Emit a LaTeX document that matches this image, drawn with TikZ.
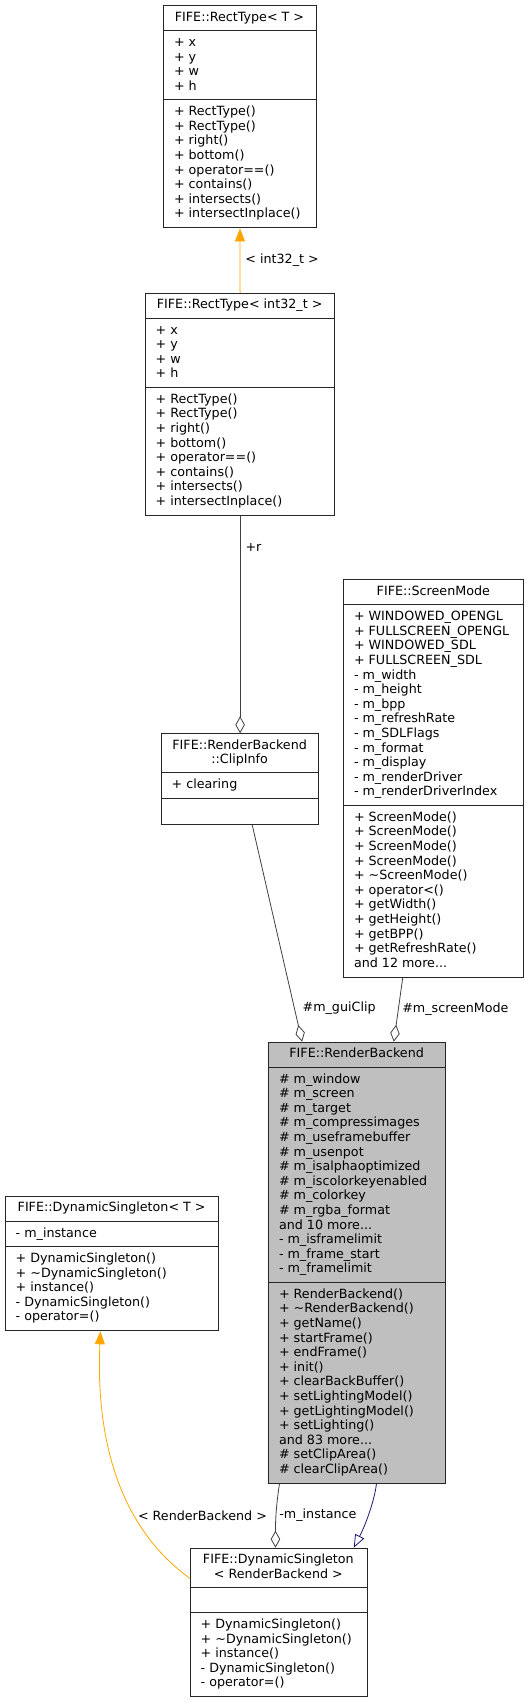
\documentclass[tikz,border=0pt]{standalone}
\usepackage{fontspec}
\setmainfont{DejaVu Sans}
\usepackage{tikz}
\usetikzlibrary{arrows.meta, calc, positioning}
\definecolor{edgegrey}{HTML}{404040}
\definecolor{tmplorange}{HTML}{FFA500}
\definecolor{midnight}{HTML}{191970}
\definecolor{boxgrey}{HTML}{BFBFBF}

\tikzset{
  classbox/.style={draw=black!85, line width=0.9pt, inner sep=0pt, anchor=north west},
  divider/.style={draw=black!85, line width=0.9pt},
  classname/.style={anchor=base, inner sep=0pt},
  members/.style={anchor=base west, inner sep=0pt},
  elabel/.style={inner sep=0pt},
  usage/.style={draw=edgegrey, line width=0.8pt, -{Diamond[open, length=17pt, width=9.5pt]}},
  tmpl/.style={draw=tmplorange, line width=0.8pt, -{Triangle[length=13pt, width=10pt]}},
  inherit/.style={draw=midnight, line width=0.8pt, -{Triangle[open, length=13pt, width=10pt]}},
}

% frame of a class: [fill]{name}{left}{top}{right}{div1}{div2}{bottom}
\newcommand{\classframe}[8][white]{%
  \node[classbox, fill=#1, minimum width={#5-#3}, minimum height={#8-#4}] (#2) at (#3,#4) {};
  \draw[divider] (#3,#6) -- (#5,#6);
  \draw[divider] (#3,#7) -- (#5,#7);
}
% lines hang from the baseline of the first one
\newcommand{\lines}[1]{\begin{tabular}[t]{@{}l@{}}#1\end{tabular}}
\newcommand{\clines}[1]{\begin{tabular}[t]{@{}c@{}}#1\end{tabular}}

\begin{document}
\begin{tikzpicture}[x=1pt, y=-1pt, every node/.style={font=\fontsize{12.7}{14.6}\selectfont}]
  \useasboundingbox (0,0) rectangle (529,1704);

  % FIFE::RectType< T >
  \classframe{rectT}{163.3}{5.3}{315.7}{30.7}{99.9}{227.5}
  \node[classname] (rectT-name) at (239.5,21.2) {FIFE::RectType< T >};
  \node[members] (rectT-attr) at (173.8,46.6) {\lines{+ x\\+ y\\+ w\\+ h}};
  \node[members] (rectT-ops) at (173.8,115.8) {\lines{+ RectType()\\+ RectType()\\+ right()\\+ bottom()\\+ operator==()\\+ contains()\\+ intersects()\\+ intersectInplace()}};

  % FIFE::RectType< int32_t >
  \classframe{rectI}{145}{292.7}{334.3}{318.1}{387.3}{514.9}
  \node[classname] (rectI-name) at (239.65,308.6) {FIFE::RectType< int32\_t >};
  \node[members] (rectI-attr) at (155.5,334.0) {\lines{+ x\\+ y\\+ w\\+ h}};
  \node[members] (rectI-ops) at (155.5,403.2) {\lines{+ RectType()\\+ RectType()\\+ right()\\+ bottom()\\+ operator==()\\+ contains()\\+ intersects()\\+ intersectInplace()}};

  % FIFE::RenderBackend::ClipInfo
  \classframe{clip}{161}{733.3}{318.3}{772.7}{798.1}{823.5}
  \node[classname] (clip-name) at (239.65,749.2) {\clines{FIFE::RenderBackend\\::ClipInfo}};
  \node[members] (clip-attr) at (171.5,788.0) {+ clearing};

  % FIFE::ScreenMode
  \classframe{screen}{343.3}{579.3}{523.3}{604.7}{805.3}{976.7}
  \node[classname] (screen-name) at (433.3,595.2) {FIFE::ScreenMode};
  \node[members] (screen-attr) at (353.8,620.6) {\lines{+ WINDOWED\_OPENGL\\+ FULLSCREEN\_OPENGL\\+ WINDOWED\_SDL\\+ FULLSCREEN\_SDL\\- m\_width\\- m\_height\\- m\_bpp\\- m\_refreshRate\\- m\_SDLFlags\\- m\_format\\- m\_display\\- m\_renderDriver\\- m\_renderDriverIndex}};
  \node[members] (screen-ops) at (353.8,821.2) {\lines{+ ScreenMode()\\+ ScreenMode()\\+ ScreenMode()\\+ ScreenMode()\\+ \textasciitilde{}ScreenMode()\\+ operator<()\\+ getWidth()\\+ getHeight()\\+ getBPP()\\+ getRefreshRate()\\and 12 more...}};

  % FIFE::RenderBackend
  \classframe[boxgrey]{rb}{268.3}{1041.7}{445}{1067.1}{1282.3}{1482.9}
  \node[classname] (rb-name) at (356.65,1057.6) {FIFE::RenderBackend};
  \node[members] (rb-attr) at (278.8,1083.0) {\lines{\# m\_window\\\# m\_screen\\\# m\_target\\\# m\_compressimages\\\# m\_useframebuffer\\\# m\_usenpot\\\# m\_isalphaoptimized\\\# m\_iscolorkeyenabled\\\# m\_colorkey\\\# m\_rgba\_format\\and 10 more...\\- m\_isframelimit\\- m\_frame\_start\\- m\_framelimit}};
  \node[members] (rb-ops) at (278.8,1298.2) {\lines{+ RenderBackend()\\+ \textasciitilde{}RenderBackend()\\+ getName()\\+ startFrame()\\+ endFrame()\\+ init()\\+ clearBackBuffer()\\+ setLightingModel()\\+ getLightingModel()\\+ setLighting()\\and 83 more...\\\# setClipArea()\\\# clearClipArea()}};

  % FIFE::DynamicSingleton< T >
  \classframe{dsT}{5}{1195.7}{218.3}{1221.1}{1246.5}{1330.3}
  \node[classname] (dsT-name) at (111.65,1211.6) {FIFE::DynamicSingleton< T >};
  \node[members] (dsT-attr) at (15.5,1237.0) {- m\_instance};
  \node[members] (dsT-ops) at (15.5,1262.4) {\lines{+ DynamicSingleton()\\+ \textasciitilde{}DynamicSingleton()\\+ instance()\\- DynamicSingleton()\\- operator=()}};

  % FIFE::DynamicSingleton< RenderBackend >
  \classframe{dsRB}{190}{1547.7}{366.7}{1587.1}{1612.5}{1696.3}
  \node[classname] (dsRB-name) at (278.35,1563.6) {\clines{FIFE::DynamicSingleton\\< RenderBackend >}};
  \node[members] (dsRB-ops) at (200.5,1628.4) {\lines{+ DynamicSingleton()\\+ \textasciitilde{}DynamicSingleton()\\+ instance()\\- DynamicSingleton()\\- operator=()}};

  % connectors
  \draw[tmpl] (rectI.north) -- (rectT.south)
    node[elabel, pos=0.448, anchor=base west, xshift=5pt] {< int32\_t >};
  \draw[usage] (rectI.south) -- (clip.north)
    node[elabel, pos=0.165, anchor=base west, xshift=5pt] {+r};
  \draw[usage] ([xshift=12pt]clip.south) -- ([xshift=-55pt]rb.north)
    node[elabel, pos=0.8625, anchor=base west, xshift=7pt] {\#m\_guiClip};
  \draw[usage] ([xshift=-31pt]screen.south) -- ([xshift=36.7pt]rb.north)
    node[elabel, pos=0.538, anchor=base west, xshift=4pt] {\#m\_screenMode};
  \draw[usage] ([xshift=-77.65pt]rb.south) .. controls +(-3,20) and +(0,-30) .. ([xshift=-3.35pt]dsRB.north)
    node[elabel, pos=0.6, anchor=base west, xshift=3pt] {-m\_instance};
  \draw[inherit] ([xshift=19.35pt]rb.south) .. controls +(-2,17) and +(11.7,-22.7) .. ([xshift=74.95pt]dsRB.north);
  \draw[tmpl] ([yshift=44pt]dsRB.west) .. controls +(-80,-58) and +(-4,90) .. ([xshift=-11.65pt]dsT.south)
    node[elabel, anchor=base east] at (267.3,1520) {< RenderBackend >};
\end{tikzpicture}
\end{document}
